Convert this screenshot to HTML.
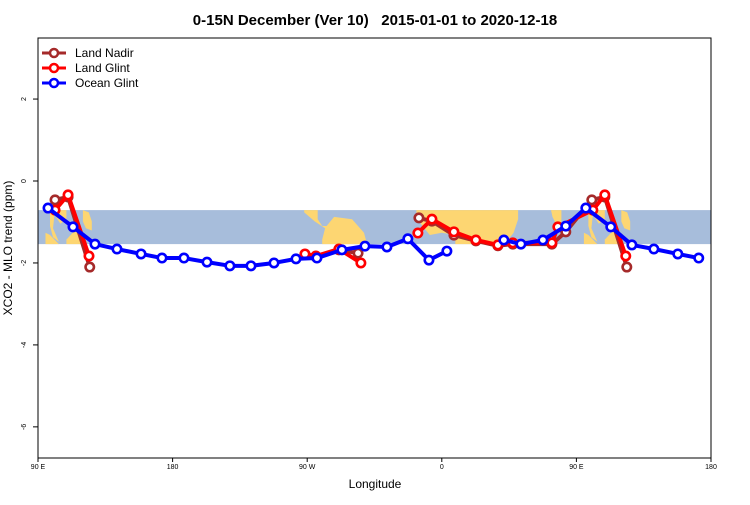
<!DOCTYPE html>
<html><head><meta charset="utf-8"><style>
body{margin:0;background:#fff;}
svg text{font-family:"Liberation Sans",Arial,sans-serif;}
</style></head><body>
<svg id="chart" width="750" height="500" viewBox="0 0 750 500" xmlns="http://www.w3.org/2000/svg">
<text x="375" y="25" text-anchor="middle" font-size="15" font-weight="bold" style="white-space:pre" xml:space="preserve">0-15N December (Ver 10)   2015-01-01 to 2020-12-18</text>
<g id="band"></g>
<g id="series"></g>
<rect x="38" y="38" width="673" height="420" fill="none" stroke="#000" stroke-width="1"/>
<g id="axes"></g>
<text x="375" y="488" text-anchor="middle" font-size="12">Longitude</text>
<text transform="translate(12,248) rotate(-90)" text-anchor="middle" font-size="12">XCO2 - MLO trend (ppm)</text>
<g font-size="12">
 <g><line x1="42" y1="53" x2="66" y2="53" stroke="#a52a2a" stroke-width="3"/><circle cx="54" cy="53" r="4" fill="#fff" stroke="#a52a2a" stroke-width="2.5"/><text x="75" y="57">Land Nadir</text></g>
 <g><line x1="42" y1="68" x2="66" y2="68" stroke="#ff0000" stroke-width="3"/><circle cx="54" cy="68" r="4" fill="#fff" stroke="#ff0000" stroke-width="2.5"/><text x="75" y="72">Land Glint</text></g>
 <g><line x1="42" y1="83" x2="66" y2="83" stroke="#0000ff" stroke-width="3"/><circle cx="54" cy="83" r="4" fill="#fff" stroke="#0000ff" stroke-width="2.5"/><text x="75" y="87">Ocean Glint</text></g>
</g>
</svg>
<script>
// longitudes expressed on 90..540 wrapped scale; null = gap
const oceanLon=[96.7,113.4,128.1,142.8,158.9,172.9,187.6,203.0,218.3,232.4,247.8,262.5,276.5,293.2,308.6,323.3,337.3,351.4,363.4,null,401.5,412.9,427.6,442.9,456.3,473.0,487.1,501.8,517.8,531.8];
const oceanVal=[-0.66,-1.12,-1.54,-1.66,-1.78,-1.88,-1.88,-1.98,-2.07,-2.07,-2.00,-1.90,-1.88,-1.68,-1.59,-1.61,-1.41,-1.93,-1.71,null,-1.44,-1.54,-1.44,-1.10,-0.66,-1.12,-1.56,-1.66,-1.78,-1.88];
const glintLon=[101.4,110.1,124.1,null,268.5,275.8,291.2,305.9,null,344.0,353.4,368.1,382.8,397.5,407.5,433.6,437.6,461.0,469.0,483.0];
const glintVal=[-0.71,-0.34,-1.83,null,-1.78,-1.83,-1.66,-2.00,null,-1.27,-0.93,-1.24,-1.44,-1.56,-1.51,-1.51,-1.12,-0.71,-0.34,-1.83];
const nadirLon=[101.4,110.1,124.6,null,268.5,275.8,291.2,304.0,null,344.7,353.4,368.1,382.8,397.5,407.5,433.6,442.9,460.3,469.0,483.7];
const nadirVal=[-0.46,-0.39,-2.10,null,-1.80,-1.85,-1.68,-1.76,null,-0.90,-0.98,-1.32,-1.46,-1.58,-1.54,-1.54,-1.24,-0.46,-0.39,-2.10];
const xTicks=[90,180,270,360,450,540];
const xTickLabels=["90 E","180","90 W","0","90 E","180"];
const yTicks=[2,0,-2,-4,-6];

const NS="http://www.w3.org/2000/svg";
const X0=38,X1=711,LON0=90,LON1=540,Y0=38,Y1=458,V0=3.49,V1=-6.76;
function xs(l){return X0+(l-LON0)*(X1-X0)/(LON1-LON0);}
function ys(v){return Y0+(V0-v)*(Y1-Y0)/(V0-V1);}
function mk(tag,attrs,parent){const e=document.createElementNS(NS,tag);for(const k in attrs)e.setAttribute(k,attrs[k]);parent.appendChild(e);return e;}

const band=document.getElementById('band');
const br=mk('rect',{x:X0,y:ys(-0.71),width:X1-X0,height:ys(-1.54)-ys(-0.71),fill:'#a7bddb'},band);


const lands=[
 [[-92,15],[-83,15],[-83,11],[-80,8],[-77,8],[-72,12],[-60,11],[-52,5],[-50,0],[-80,0],[-80,2],[-78,7],[-85,10],[-92,14]],
 [[-17,15],[51,15],[51,11],[48,5],[42,0],[9,0],[9,4],[0,5],[-8,4],[-13,8],[-17,12]],
 [[73,15],[75,15],[80,15],[80,10],[77,8],[74,12]],
 [[98,15],[109,15],[109,11],[105,9],[101,13],[100,7],[104,1],[100,3],[98,8]],
 [[95,5],[98,4],[104,0],[95,0]],
 [[109,0],[119,0],[119,5],[116,7],[109,2]],
 [[120,15],[124,14],[126,10],[126,6],[122,7],[120,10]]
];
function lonW(l){return l<90?l+360:l;}
lands.forEach(poly=>{
  [0,360].forEach(sh=>{
    if(sh===360&&poly[0][0]<90)return;
    const s=poly.map(p=>{const w=lonW(p[0])+sh;const lat=Math.max(0,Math.min(15,p[1]));return xs(w).toFixed(1)+','+(ys(-1.54)-(lat/15)*(ys(-1.54)-ys(-0.71))).toFixed(1);}).join(' ');
    const pg=mk('polygon',{points:s,fill:'#fdd672'},band);
    
    
  });
});
const cp=mk('clipPath',{id:'clip'},document.getElementById('chart'));
mk('rect',{x:X0,y:Y0,width:X1-X0,height:Y1-Y0},cp);
band.setAttribute('clip-path','url(#clip)');

function series(lon,val,color,name){
  const g=mk('g',{},document.getElementById('series'));
  
  
  let seg=[];const segs=[];
  lon.forEach((l,i)=>{if(l===null||val[i]===null){if(seg.length)segs.push(seg);seg=[];}else seg.push([xs(l),ys(val[i])]);});
  if(seg.length)segs.push(seg);
  segs.forEach(s=>{const pl=mk('polyline',{points:s.map(p=>p.join(',')).join(' '),fill:'none',stroke:color,'stroke-width':4,'stroke-linejoin':'round'},g);
    
    });
  lon.forEach((l,i)=>{if(l===null)return;const c=mk('circle',{cx:xs(l),cy:ys(val[i]),r:4.2,fill:'#fff',stroke:color,'stroke-width':2.6},g);
    
    });
}
series(nadirLon,nadirVal,'#a52a2a','land-nadir');
series(glintLon,glintVal,'#ff0000','land-glint');
series(oceanLon,oceanVal,'#0000ff','ocean-glint');

const ax=document.getElementById('axes');
xTicks.forEach((t,i)=>{const x=xs(t);mk('line',{x1:x,y1:Y1,x2:x,y2:Y1+4,stroke:'#000'},ax);
  const tx=mk('text',{x:x,y:Y1+11,'text-anchor':'middle','font-size':7},ax);tx.textContent=xTickLabels[i];
  
  });
yTicks.forEach(t=>{const y=ys(t);mk('line',{x1:X0-5,y1:y,x2:X0,y2:y,stroke:'#000'},ax);
  const tx=mk('text',{transform:`translate(${X0-12},${y}) rotate(-90)`,'text-anchor':'middle','font-size':7},ax);tx.textContent=t;
  
  });
</script>
</body></html>
